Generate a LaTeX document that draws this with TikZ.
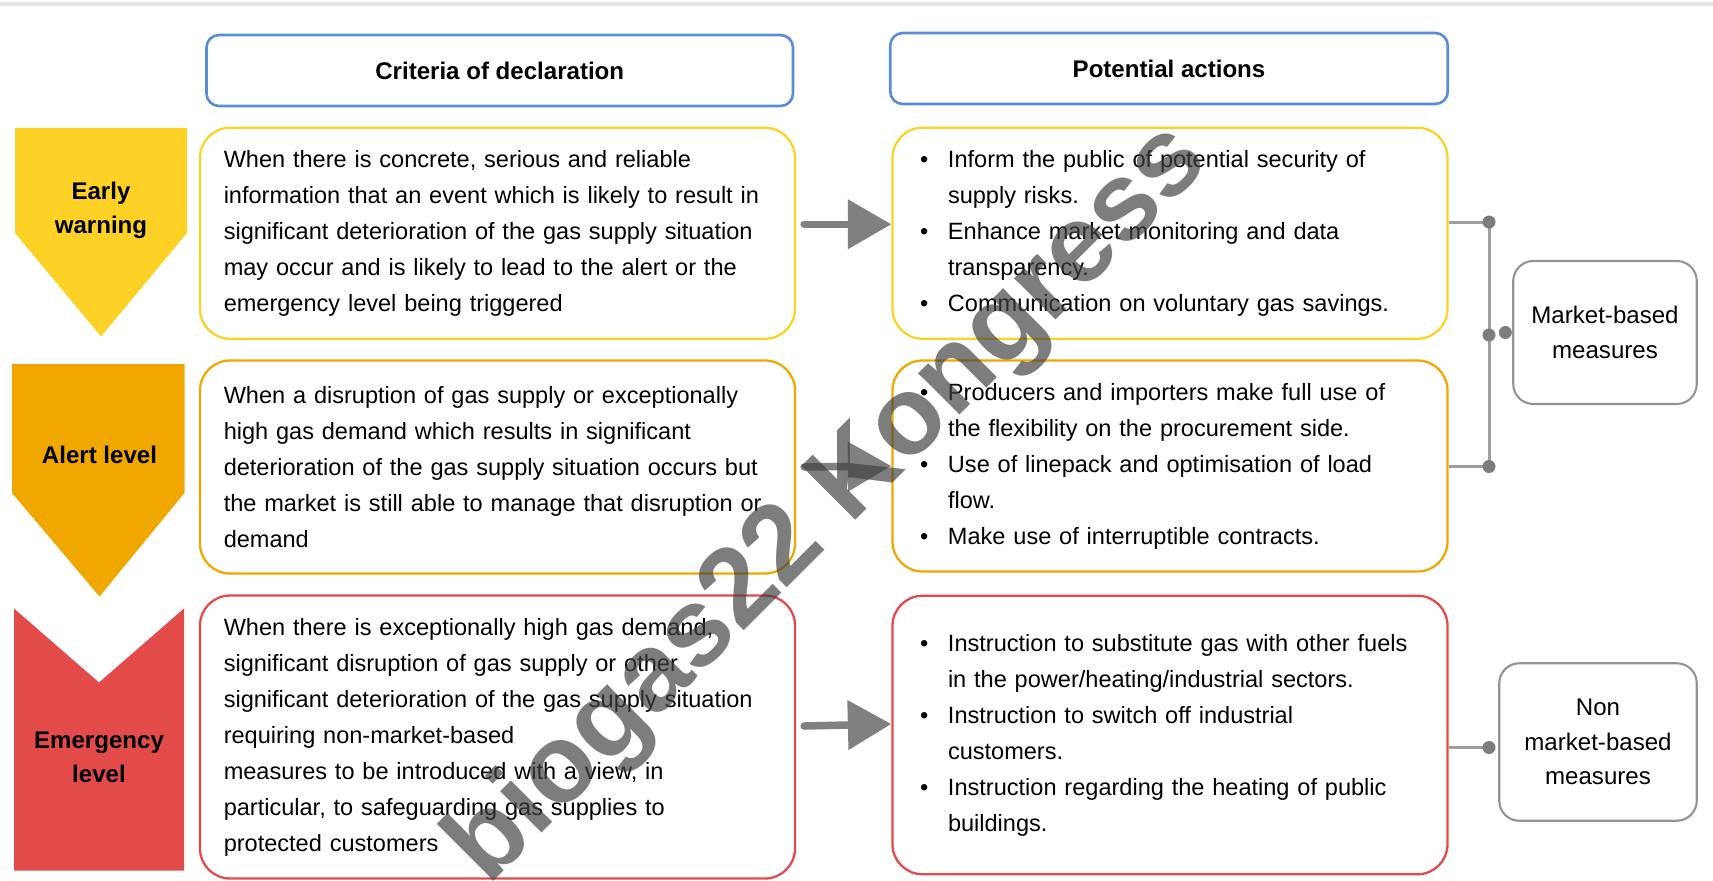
\documentclass[tikz,border=0pt]{standalone}
\usepackage{fontspec}
\setmainfont{Liberation Sans}
\usepackage{tikz}
\usetikzlibrary{arrows.meta}
\definecolor{earlyc}{HTML}{FDD126}
\definecolor{alertc}{HTML}{F0A800}
\definecolor{emergc}{HTML}{E24B4A}
\definecolor{headc}{HTML}{5B8CD8}
\definecolor{linkc}{HTML}{9E9E9E}
\definecolor{dotc}{HTML}{7D7D7D}
\definecolor{arrowc}{HTML}{808080}
\newcommand{\bodyfont}{\fontsize{13.4}{20.5}\selectfont}
\newcommand{\bul}{\makebox[0.56cm][l]{\textbullet}}
\newcommand{\cont}{\hspace*{0.56cm}}

\begin{document}
\begin{tikzpicture}[
    header/.style={draw=headc, line width=1.5pt, rounded corners=0.25cm, minimum height=1.42cm, font=\fontsize{13.7}{16}\selectfont\bfseries},
    critbox/.style={line width=1.3pt, rounded corners=0.6cm, text width=10.95cm, inner xsep=0.475cm, align=left, font=\bodyfont},
    actbox/.style={line width=1.3pt, rounded corners=0.6cm, text width=10.0cm, inner xsep=0.55cm, align=left, font=\bodyfont},
    levellabel/.style={font=\fontsize{13.7}{19.5}\selectfont\bfseries, align=center},
    measure/.style={draw=gray!85, line width=1.2pt, rounded corners=0.4cm, align=center, font=\fontsize{13.7}{19.5}\selectfont},
    flow/.style={draw=arrowc, line width=0.15cm, line cap=round, -{Triangle[length=0.87cm,width=0.96cm]}},
    link/.style={draw=linkc, line width=0.06cm},
    joint/.style={circle, fill=dotc, inner sep=0pt, minimum size=0.26cm},
]
\useasboundingbox (0,0) rectangle (34.26,-17.6);
\draw[gray!20, line width=0.08cm] (0,-0.07) -- (34.26,-0.07);

% Column headers
\node[header, minimum width=11.73cm] (hcrit) at (9.995, -1.41) {Criteria of declaration};
\node[header, minimum width=11.15cm] (hact) at (23.38, -1.37) {Potential actions};

% Level banners
\fill[earlyc] (0.3,-2.556) -- (3.74,-2.556) -- (3.74,-4.66) -- (2.02,-6.73) -- (0.3,-4.66) -- cycle;
\fill[alertc] (0.24,-7.28) -- (3.69,-7.28) -- (3.69,-9.86) -- (1.99,-11.93) -- (0.24,-9.86) -- cycle;
\fill[emergc] (0.28,-12.17) -- (1.98,-13.65) -- (3.68,-12.17) -- (3.68,-17.41) -- (0.28,-17.41) -- cycle;
\node[levellabel] (lvl1) at (2.02, -4.2) {Early\\warning};
\node[levellabel] (lvl2) at (1.99, -9.09) {Alert level};
\node[levellabel] (lvl3) at (1.98, -15.14) {Emergency\\level};

% Criteria of declaration
\foreach \name/\ypos/\hgt/\clr/\txt in {
  crit1/-4.665/4.22/earlyc/{When there is concrete, serious and reliable\\information that an event which is likely to result in\\significant deterioration of the gas supply situation\\may occur and is likely to lead to the alert or the\\emergency level being triggered},
  crit2/-9.34/4.26/alertc/{When a disruption of gas supply or exceptionally\\high gas demand which results in significant\\deterioration of the gas supply situation occurs but\\the market is still able to manage that disruption or\\demand},
  crit3/-14.74/5.66/emergc/{When there is exceptionally high gas demand,\\significant disruption of gas supply or other\\significant deterioration of the gas supply situation\\requiring non-market-based\\measures to be introduced with a view, in\\particular, to safeguarding gas supplies to\\protected customers}
}{
  \node[critbox, draw=\clr, minimum height=\hgt cm] (\name) at (9.95, \ypos) {\txt};
}

% Potential actions
\foreach \name/\ypos/\hgt/\clr/\txt in {
  act1/-4.665/4.22/earlyc/{\bul Inform the public of potential security of\\\cont supply risks.\\\bul Enhance market monitoring and data\\\cont transparency.\\\bul Communication on voluntary gas savings.},
  act2/-9.32/4.22/alertc/{\bul Producers and importers make full use of\\\cont the flexibility on the procurement side.\\\bul Use of linepack and optimisation of load\\\cont flow.\\\bul Make use of interruptible contracts.},
  act3/-14.70/5.57/emergc/{\bul Instruction to substitute gas with other fuels\\\cont in the power/heating/industrial sectors.\\\bul Instruction to switch off industrial\\\cont customers.\\\bul Instruction regarding the heating of public\\\cont buildings.}
}{
  \node[actbox, draw=\clr, minimum height=\hgt cm] (\name) at (23.4, \ypos) {\txt};
}

% Arrows between the columns
\draw[flow] ([xshift=0.16cm, yshift=0.18cm]crit1.east) -- ([yshift=0.18cm]act1.west);
\draw[flow] ([xshift=0.16cm]crit2.east) -- (act2.west);
\draw[flow] ([xshift=0.16cm, yshift=0.22cm]crit3.east) -- ([yshift=0.22cm]act3.west);

% Measures
\node[measure, minimum width=3.67cm, minimum height=2.86cm] (mkt) at (32.1, -6.65) {Market-based\\measures};
\node[measure, minimum width=3.95cm, minimum height=3.15cm] (nonmkt) at (31.96, -14.84) {Non\\market-based\\measures};

\coordinate (jA) at (29.78, -4.44);
\coordinate (jB) at (29.78, -9.33);
\coordinate (jM) at (29.78, -6.7);
\coordinate (jC) at (29.78, -14.95);
\draw[link] (jA -| act1.east) -- (jA) -- (jB) -- (jB -| act2.east);
\draw[link] (jC -| act3.east) -- (jC);
\node[joint] (dA) at (jA) {};
\node[joint] (dB) at (jB) {};
\node[joint] (dM) at (jM) {};
\node[joint, anchor=east] (dMk) at (mkt.west) {};
\node[joint] (dC) at (jC) {};

% Watermark
\node[font=\fontsize{63}{63}\selectfont\bfseries, text=black!75, opacity=0.68, rotate=45] (wm) at (16.6, -10.1) {biogas22 Kongress};

\end{tikzpicture}
\end{document}
